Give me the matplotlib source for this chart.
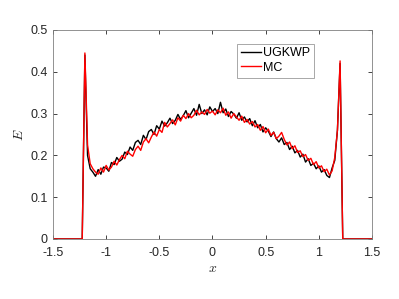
import numpy as np
import matplotlib
matplotlib.use('agg')
import matplotlib.pyplot as plt

####  Data  ####################################################################
# interior grid between the two spikes, spacing 0.025
x_inner = np.round(np.arange(-1.175, 1.1751, 0.025), 3)

ugkwp_inner = [
    0.200, 0.168, 0.160, 0.150, 0.166, 0.155, 0.172, 0.170, 0.162, 0.183,
    0.178, 0.195, 0.186, 0.191, 0.208, 0.202, 0.220, 0.212, 0.231, 0.236,
    0.226, 0.248, 0.238, 0.257, 0.262, 0.250, 0.271, 0.263, 0.282, 0.270,
    0.278, 0.289, 0.276, 0.284, 0.298, 0.286, 0.295, 0.307, 0.290, 0.301,
    0.312, 0.296, 0.322, 0.300, 0.309, 0.297, 0.316, 0.305, 0.312, 0.300,
    0.327, 0.302, 0.311, 0.293, 0.305, 0.299, 0.289, 0.302, 0.284, 0.292,
    0.280, 0.288, 0.271, 0.283, 0.266, 0.274, 0.256, 0.266, 0.258, 0.245,
    0.256, 0.240, 0.232, 0.242, 0.226, 0.231, 0.214, 0.222, 0.206, 0.212,
    0.196, 0.203, 0.184, 0.192, 0.176, 0.181, 0.168, 0.175, 0.160, 0.166,
    0.152, 0.147, 0.170, 0.188, 0.260,
]
mc_inner = [
    0.225, 0.180, 0.168, 0.160, 0.155, 0.170, 0.160, 0.176, 0.165, 0.172,
    0.186, 0.177, 0.190, 0.200, 0.192, 0.210, 0.203, 0.198, 0.214, 0.222,
    0.212, 0.232, 0.240, 0.230, 0.244, 0.256, 0.246, 0.262, 0.255, 0.279,
    0.268, 0.276, 0.285, 0.273, 0.290, 0.282, 0.296, 0.288, 0.300, 0.290,
    0.296, 0.308, 0.297, 0.304, 0.298, 0.310, 0.301, 0.306, 0.297, 0.309,
    0.302, 0.313, 0.296, 0.304, 0.289, 0.300, 0.292, 0.284, 0.294, 0.279,
    0.286, 0.275, 0.281, 0.268, 0.274, 0.260, 0.269, 0.254, 0.263, 0.248,
    0.255, 0.240, 0.246, 0.255, 0.238, 0.225, 0.232, 0.216, 0.223, 0.207,
    0.211, 0.197, 0.202, 0.188, 0.193, 0.178, 0.185, 0.170, 0.175, 0.161,
    0.167, 0.153, 0.163, 0.195, 0.260,
]

# outer part: zero region and the spikes at +-1.2
x_left = [-1.5, -1.225, -1.2]
x_right = [1.2, 1.225, 1.5]
ugkwp_left, ugkwp_right = [0.0, 0.0, 0.44], [0.42, 0.0, 0.0]
mc_left, mc_right = [0.0, 0.0, 0.445], [0.426, 0.0, 0.0]

x = np.concatenate([x_left, x_inner, x_right])
ugkwp = np.concatenate([ugkwp_left, ugkwp_inner, ugkwp_right])
mc = np.concatenate([mc_left, mc_inner, mc_right])

####  Plot  ####################################################################
plt.rcParams['font.family'] = ['Liberation Sans', 'DejaVu Sans']
plt.rcParams['mathtext.fontset'] = 'cm'
axis_col = '#262626'

fig = plt.figure(figsize=(3.99, 2.99), dpi=100)
ax = fig.add_axes([0.1328, 0.2007, 0.7995, 0.699])

ax.plot(x, ugkwp, color='black', lw=1.0, label='UGKWP')
ax.plot(x, mc, color='red', lw=1.0, label='MC')

ax.set_xlim(-1.5, 1.5)
ax.set_ylim(0, 0.5)
ax.set_xticks([-1.5, -1, -0.5, 0, 0.5, 1, 1.5])
ax.set_xticklabels(['-1.5', '-1', '-0.5', '0', '0.5', '1', '1.5'])
ax.set_yticks([0, 0.1, 0.2, 0.3, 0.4, 0.5])
ax.set_yticklabels(['0', '0.1', '0.2', '0.3', '0.4', '0.5'])
ax.tick_params(direction='in', top=True, right=True, length=3, width=0.6,
               labelsize=9, colors=axis_col)
ax.tick_params(axis='x', pad=6)
ax.tick_params(axis='y', pad=4)
for s in ax.spines.values():
    s.set_color('#808080')
    s.set_linewidth(0.6)

ax.set_xlabel('$x$', fontsize=10, color=axis_col, labelpad=1)
ax.set_ylabel('$E$', fontsize=10, color=axis_col, labelpad=3)

leg = ax.legend(loc='upper left', bbox_to_anchor=(0.577, 0.935), fontsize=9,
                frameon=True, fancybox=False, handlelength=1.6,
                handletextpad=0.2, borderpad=0.3, labelspacing=0.2,
                borderaxespad=0)
leg.get_frame().set_edgecolor('#808080')
leg.get_frame().set_linewidth(0.6)

fig.savefig('out.png', dpi=100)
